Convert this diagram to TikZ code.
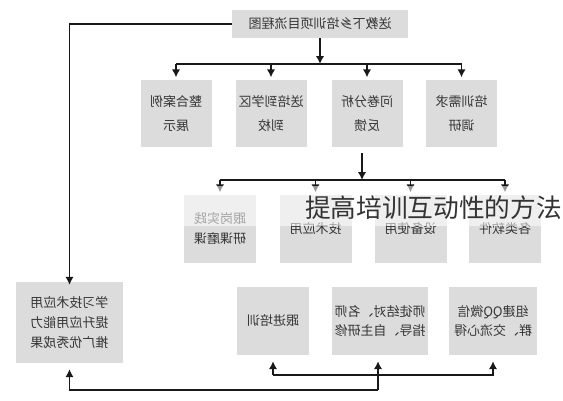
\documentclass[tikz,border=0pt]{standalone}
\usepackage{fontspec}
\usepackage{graphicx}
\newfontfamily\cjk{Noto Sans CJK SC}
\usetikzlibrary{arrows.meta}
\newcommand{\mir}[1]{\reflectbox{#1}}
\definecolor{boxgray}{HTML}{DCDCDC}
\definecolor{txtgray}{HTML}{353535}
\begin{document}
\begin{tikzpicture}[x=1pt,y=-1pt,
  box/.style={draw=none, fill=boxgray, inner sep=0pt, text=txtgray,
    font=\cjk\fontsize{13}{20}\selectfont, align=center},
  conn/.style={line width=1.8pt, black!90},
  arr/.style={conn, -{Latex[length=8pt,width=8.5pt]}},
  overlaytext/.style={inner sep=0pt, text=black!80, font=\cjk\fontsize{25.7}{28}\selectfont},
]
\path[use as bounding box, fill=white] (0,0) rectangle (563,400);

% title
\node[box, minimum width=176pt, minimum height=28pt] (title) at (320,24) {\mir{送教下乡培训项目流程图}};

% top row
\begin{scope}[every node/.style={box, minimum width=71pt, minimum height=67pt, font=\cjk\fontsize{13}{24}\selectfont}]
\node (t1) at (176,113.5) {\mir{整合案例}\\\mir{展示}};
\node (t2) at (271,113.5) {\mir{送培到学区}\\\mir{到校}};
\node (t3) at (367,113.5) {\mir{问卷分析}\\\mir{反馈}};
\node (t4) at (461.5,113.5) {\mir{培训需求}\\\mir{调研}};
\end{scope}

% second row
\begin{scope}[every node/.style={box, minimum width=72pt, minimum height=68pt}]
\node (s1) at (220,229) {\mir{跟岗实践}\\\mir{研课磨课}};
\node (s2) at (315.5,229) {\mir{技术应用}};
\node (s3) at (410.5,229) {\mir{设备使用}};
\node (s4) at (505,229) {\mir{各类软件}};
\end{scope}

% left bottom box
\node[box, minimum width=107pt, minimum height=81pt] (L) at (69.5,322.5)
  {\mir{学习技术应用}\\\mir{提升应用能力}\\\mir{推广优秀成果}};

% bottom row
\begin{scope}[every node/.style={box, minimum height=68pt, font=\cjk\fontsize{13}{19}\selectfont}]
\node[minimum width=72pt] (b1) at (273,321) {\mir{跟进培训}};
\node[minimum width=96pt] (b2) at (380,321) {\mir{师徒结对、名师}\\\mir{指导、自主研修}};
\node[minimum width=88pt] (b3) at (493,321) {\mir{组建QQ微信}\\\mir{群、交流心得}};
\end{scope}

% connectors: title
\coordinate (j1) at (320,64);
\draw[arr] (title.west) -| ([yshift=-3pt]L.north);
\draw[arr] (title.south) -- (j1);
\draw[conn] (t1.north |- j1) -- (t4.north |- j1);
\foreach \t in {t1,t2,t3,t4}{\draw[arr, shorten >=2.5pt] (\t.north |- j1) -- (\t.north);}

% connectors: second row
\coordinate (j2s) at (362,153);
\coordinate (j2) at (362,180);
\draw[arr] (j2s) -- (j2);
\draw[conn] (s1.north |- j2) -- (s4.north |- j2);
\foreach \s in {s1,s2,s3,s4}{\draw[arr, shorten >=2.5pt] (\s.north |- j2) -- (\s.north);}

% connectors: bottom
\coordinate (k1) at (273,375);
\coordinate (k2) at (378,390);
\draw[arr, shorten >=6pt] (k1) -- (b1.south);
\draw[arr, shorten >=6pt] (k1) -- (b3.south |- k1) -- (b3.south);
\draw[arr, shorten >=6pt] (k2) -- (k2 |- b2.south);
\draw[arr, shorten >=6pt] (k2) -- (L.south |- k2) -- (L.south);

% overlay
\fill[white, opacity=0.55] (182,186) rectangle (563,226);
\node[overlaytext] (ov) at (433.5,208) {提高培训互动性的方法};
\end{tikzpicture}
\end{document}
